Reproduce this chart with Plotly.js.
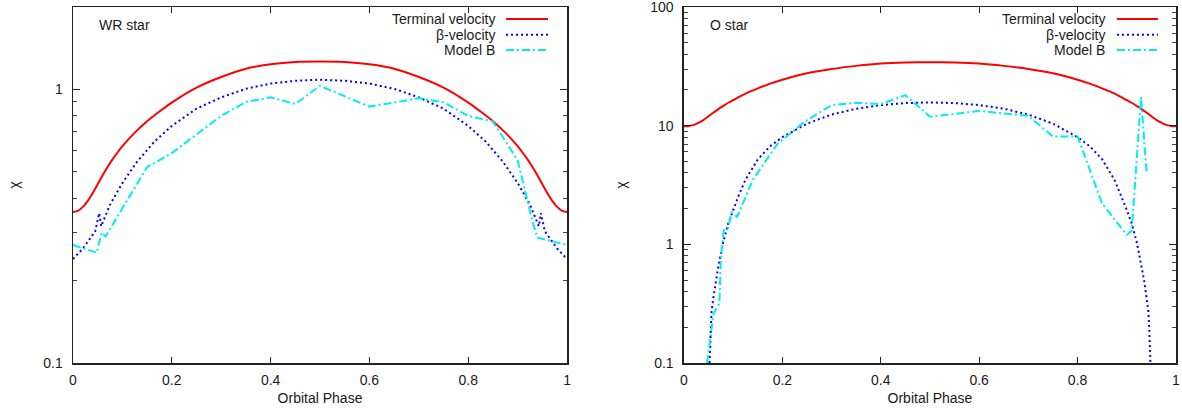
<!DOCTYPE html>
<html>
<head>
<meta charset="utf-8">
<script src="https://cdn.plot.ly/plotly-3.0.1.min.js"></script>
<style>html,body{margin:0;padding:0;background:#fff;}#chart{width:1182px;height:411px;}</style>
</head>
<body>
<div id="chart"></div>
<script>
// ---------- WR star (left panel) ----------
const wrTermPhase = [0,0.01,0.02,0.03,0.04,0.05,0.06,0.07,0.08,0.09,0.1,0.125,0.15,0.175,0.2,0.25,0.3,0.35,0.4,0.45,0.5,0.55,0.6,0.65,0.7,0.75,0.8,0.825,0.85,0.875,0.9,0.91,0.92,0.93,0.94,0.95,0.96,0.97,0.98,0.99,1];
const wrTerm      = [0.356,0.36,0.372,0.391,0.418,0.45,0.485,0.52,0.555,0.588,0.62,0.695,0.765,0.83,0.895,1.015,1.11,1.19,1.235,1.26,1.265,1.26,1.235,1.19,1.11,1.015,0.895,0.83,0.765,0.695,0.62,0.588,0.555,0.52,0.485,0.45,0.418,0.391,0.372,0.36,0.356];

const wrBetaPhase = [0,0.02,0.045,0.053,0.057,0.075,0.1,0.13,0.165,0.2,0.25,0.3,0.35,0.4,0.45,0.5,0.55,0.6,0.65,0.7,0.75,0.8,0.835,0.87,0.9,0.925,0.943,0.947,0.955,0.98,1];
const wrBeta      = [0.24,0.262,0.303,0.353,0.316,0.379,0.455,0.545,0.645,0.735,0.85,0.935,1.005,1.05,1.075,1.085,1.075,1.05,1.005,0.935,0.85,0.735,0.645,0.545,0.455,0.379,0.316,0.353,0.303,0.262,0.24];

const wrModelPhase = [0,0.048,0.058,0.066,0.095,0.15,0.2,0.3,0.35,0.4,0.45,0.5,0.6,0.7,0.75,0.8,0.85,0.9,0.93,0.94,1];
const wrModel      = [0.27,0.253,0.30,0.29,0.355,0.52,0.585,0.80,0.90,0.935,0.885,1.03,0.865,0.927,0.897,0.80,0.763,0.55,0.33,0.287,0.27];

// ---------- O star (right panel) ----------
const oTermPhase = [0,0.01,0.02,0.03,0.04,0.05,0.06,0.07,0.08,0.09,0.1,0.125,0.15,0.175,0.2,0.25,0.3,0.35,0.4,0.45,0.5,0.55,0.6,0.65,0.7,0.75,0.8,0.825,0.85,0.875,0.9,0.91,0.92,0.93,0.94,0.95,0.96,0.97,0.98,0.99,1];
const oTerm      = [9.9,9.95,10.15,10.6,11.2,12.0,12.9,13.8,14.7,15.6,16.4,18.6,20.6,22.6,24.4,27.6,30.0,31.9,33.4,34.1,34.3,34.1,33.4,31.9,30.0,27.6,24.4,22.6,20.6,18.6,16.4,15.6,14.7,13.8,12.9,12.0,11.2,10.6,10.15,9.95,9.9];

const oBetaPhase = [0.052,0.054,0.056,0.06,0.065,0.07,0.075,0.08,0.09,0.1,0.11,0.125,0.15,0.175,0.2,0.25,0.3,0.35,0.4,0.45,0.5,0.55,0.6,0.65,0.7,0.75,0.8,0.825,0.85,0.875,0.89,0.9,0.91,0.92,0.925,0.93,0.935,0.94,0.944,0.946,0.948];
const oBeta      = [0.1,0.18,0.27,0.36,0.5,0.66,0.83,1.05,1.5,1.95,2.5,3.5,5.2,6.7,8.0,10.4,12.4,13.9,14.9,15.5,15.7,15.5,14.9,13.9,12.4,10.4,8.0,6.7,5.2,3.5,2.5,1.95,1.5,1.05,0.83,0.66,0.5,0.36,0.27,0.18,0.1];

const oModelPhase = [0.047,0.06,0.072,0.075,0.081,0.089,0.097,0.108,0.14,0.19,0.245,0.3,0.35,0.4,0.45,0.5,0.6,0.7,0.75,0.8,0.85,0.9,0.91,0.929,0.94];
const oModel      = [0.1,0.26,0.32,0.78,1.31,1.35,1.85,1.7,3.5,7.0,10.8,14.9,15.6,15.2,18.1,11.9,13.3,12.1,8.1,8.1,2.2,1.2,1.3,17.5,4.1];

const seriesNames = ['Terminal velocity', '\u03b2-velocity', 'Model B'];
const panelLabels = ['WR star', 'O star'];
const xTickVals = [0,0.2,0.4,0.6,0.8,1];

const RED = '#ff0000', BLUE = '#0000ff', CYAN = '#00eeee';
const termLine  = {color: RED,  width: 2, dash: 'solid', shape: 'spline', smoothing: 0.5};
const betaLine  = {color: BLUE, width: 2, dash: '2px,3px'};
const modelLine = {color: CYAN, width: 2, dash: '8px,3px,2px,3px'};

const traces = [
  {x: wrTermPhase, y: wrTerm, xaxis: 'x', yaxis: 'y', mode: 'lines', line: termLine, name: seriesNames[0]},
  {x: wrBetaPhase, y: wrBeta, xaxis: 'x', yaxis: 'y', mode: 'lines', line: betaLine, name: seriesNames[1]},
  {x: wrModelPhase, y: wrModel, xaxis: 'x', yaxis: 'y', mode: 'lines', line: modelLine, name: seriesNames[2]},
  {x: oTermPhase, y: oTerm, xaxis: 'x2', yaxis: 'y2', mode: 'lines', line: termLine, name: seriesNames[0]},
  {x: oBetaPhase, y: oBeta, xaxis: 'x2', yaxis: 'y2', mode: 'lines', line: betaLine, name: seriesNames[1]},
  {x: oModelPhase, y: oModel, xaxis: 'x2', yaxis: 'y2', mode: 'lines', line: modelLine, name: seriesNames[2]}
];

const FONT = {family: '"Liberation Sans", Arial, Helvetica, sans-serif', size: 14, color: '#1a1a1a'};
const AX = '#222';

function xAxis(domain, anchor) {
  return {
    domain: domain, anchor: anchor, range: [0, 1], tickvals: xTickVals,
    ticks: 'inside', ticklen: 6, tickwidth: 1, tickcolor: AX,
    showline: true, linecolor: AX, linewidth: 1.5, mirror: 'ticks',
    showgrid: false, zeroline: false, ticklabelstandoff: 4,
    title: {text: 'Orbital Phase', font: FONT, standoff: 6},
    tickfont: FONT
  };
}
function yAxis(range, anchor) {
  return {
    type: 'log', range: range, anchor: anchor, domain: [0, 1], dtick: 1,
    tickformat: '~g', ticklabeloverflow: 'allow',
    ticks: 'inside', ticklen: 7, tickwidth: 1, tickcolor: AX,
    minor: {ticks: 'inside', ticklen: 4, tickwidth: 1, tickcolor: '#444', dtick: 'D1', showgrid: false},
    showline: true, linecolor: AX, linewidth: 1.5, mirror: 'ticks',
    showgrid: false, zeroline: false, ticklabelstandoff: 6,
    title: {text: '\u03c7', font: FONT, standoff: 20},
    tickfont: FONT
  };
}

// legend drawn gnuplot-style: right-aligned text, sample line on the right
const legendRows = [0.966, 0.922, 0.879];
const styles = [termLine, betaLine, modelLine];
const shapes = [], annotations = [];
[['x', 'y'], ['x2', 'y2']].forEach(function (ax, p) {
  const x0 = p === 0 ? 0.8765 : 0.880;
  const x1 = p === 0 ? 0.9615 : 0.9634;
  const tx = p === 0 ? 0.858 : 0.8598;
  seriesNames.forEach(function (nm, i) {
    shapes.push({type: 'line', xref: ax[0] + ' domain', yref: ax[1] + ' domain',
      x0: x0, x1: x1, y0: legendRows[i], y1: legendRows[i],
      line: {color: styles[i].color, width: 2, dash: styles[i].dash}});
    annotations.push({text: nm, xref: ax[0] + ' domain', yref: ax[1] + ' domain',
      x: tx, y: legendRows[i], xanchor: 'right', yanchor: 'middle', showarrow: false,
      font: FONT});
  });
  annotations.push({text: panelLabels[p], xref: ax[0] + ' domain', yref: ax[1] + ' domain',
    x: 0.0486, y: 0.95, xanchor: 'left', yanchor: 'middle', showarrow: false,
    font: FONT});
});

const layout = {
  width: 1182, height: 411,
  margin: {l: 73, r: 6, t: 7, b: 48},
  paper_bgcolor: '#fff', plot_bgcolor: '#fff',
  showlegend: false, font: FONT,
  xaxis: xAxis([0, 0.4479], 'y'),
  yaxis: yAxis([-1, Math.log10(2)], 'x'),
  xaxis2: xAxis([0.5539, 1], 'y2'),
  yaxis2: yAxis([-1, 2], 'x2'),
  shapes: shapes, annotations: annotations
};

Plotly.newPlot('chart', traces, layout, {staticPlot: true, displayModeBar: false});
</script>
</body>
</html>
